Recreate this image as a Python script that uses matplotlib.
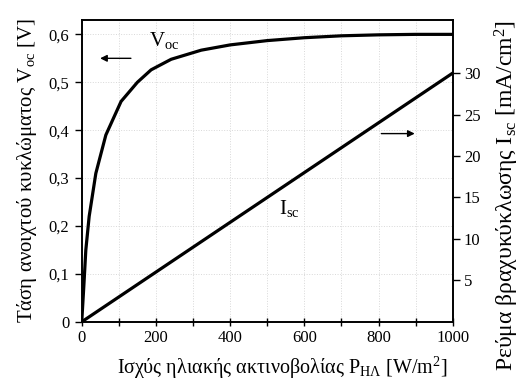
import matplotlib
matplotlib.use("Agg")
import matplotlib.pyplot as plt
from matplotlib.ticker import MultipleLocator, FuncFormatter

plt.rcParams['font.family'] = ['Liberation Serif', 'DejaVu Serif']
plt.rcParams['mathtext.fontset'] = 'custom'
plt.rcParams['mathtext.rm'] = 'Liberation Serif'
plt.rcParams['mathtext.it'] = 'Liberation Serif:italic'

# Irradiance P [W/m^2] and open-circuit voltage Voc [V]
p_voc = [0, 3, 6, 11, 20, 38, 65, 106, 150, 187, 241, 322, 400, 500, 600, 700, 800, 900, 1000]
voc = [0, 0.04, 0.08, 0.15, 0.22, 0.31, 0.39, 0.46, 0.50, 0.526, 0.548, 0.567, 0.578, 0.587, 0.593, 0.597, 0.599, 0.600, 0.600]

# Short-circuit current density Isc [mA/cm^2]
p_isc = [0, 200, 400, 600, 800, 1000]
isc = [0, 6, 12, 18, 24, 30]

x_ticks = [0, 200, 400, 600, 800, 1000]
v_ticks = [0, 0.1, 0.2, 0.3, 0.4, 0.5, 0.6]
i_ticks = [5, 10, 15, 20, 25, 30]

fig = plt.figure(figsize=(5.24, 3.92), dpi=100)
ax = fig.add_axes([0.156, 0.179, 0.708, 0.770])
ax2 = ax.twinx()

v_top = 0.63
i_top = 36.4

ax.plot(p_voc, voc, color='black', lw=2.3, solid_capstyle='round', zorder=3)
ax2.plot(p_isc, isc, color='black', lw=2.3, solid_capstyle='round', zorder=3)

ax.set_xlim(0, 1000)
ax.set_ylim(0, v_top)
ax2.set_ylim(0, i_top)

ax.set_xticks(x_ticks)
ax.xaxis.set_minor_locator(MultipleLocator(100))
ax.set_yticks(v_ticks)
ax.yaxis.set_major_formatter(FuncFormatter(lambda v, pos: ('%g' % round(v, 2)).replace('.', ',')))
ax2.set_yticks(i_ticks)

ax.tick_params(axis='x', which='both', direction='inout', length=6, width=1, labelsize=12, pad=3)
ax.tick_params(axis='y', direction='out', length=5, width=1, labelsize=12, pad=4)
ax2.tick_params(axis='y', direction='out', length=5, width=1, labelsize=12, pad=3)

for a in (ax, ax2):
    for s in a.spines.values():
        s.set_linewidth(1.2)

# faint dotted background grid
ax.grid(True, which='both', axis='x', color='#d8d8d8', ls=':', lw=0.7)
ax.grid(True, axis='y', color='#d8d8d8', ls=':', lw=0.7)
ax.set_axisbelow(True)

ax.set_xlabel('Ισχύς ηλιακής ακτινοβολίας P$_{\\mathrm{ΗΛ}}$ [W/m$^2$]', fontsize=14.5, labelpad=6)
ax.xaxis.label.set_x(0.54)
ax.set_ylabel('Τάση ανοιχτού κυκλώματος V$_{\\mathrm{oc}}$ [V]', fontsize=15, labelpad=7)
ax2.set_ylabel('Ρεύμα βραχυκύκλωσης I$_{\\mathrm{sc}}$ [mA/cm$^2$]', fontsize=17, labelpad=9)
ax2.yaxis.label.set_y(0.42)

# curve labels and direction arrows
ax.text(182, 0.575, 'V$_{\\mathrm{oc}}$', fontsize=15)
ax.annotate('', xy=(42, 0.55), xytext=(140, 0.55),
            arrowprops=dict(arrowstyle='-|>', color='black', lw=1.0, mutation_scale=10))
ax2.text(533, 13.0, 'I$_{\\mathrm{sc}}$', fontsize=15)
ax2.annotate('', xy=(905, 22.7), xytext=(800, 22.7),
             arrowprops=dict(arrowstyle='-|>', color='black', lw=1.0, mutation_scale=10))

fig.savefig('out.png', dpi=100)
